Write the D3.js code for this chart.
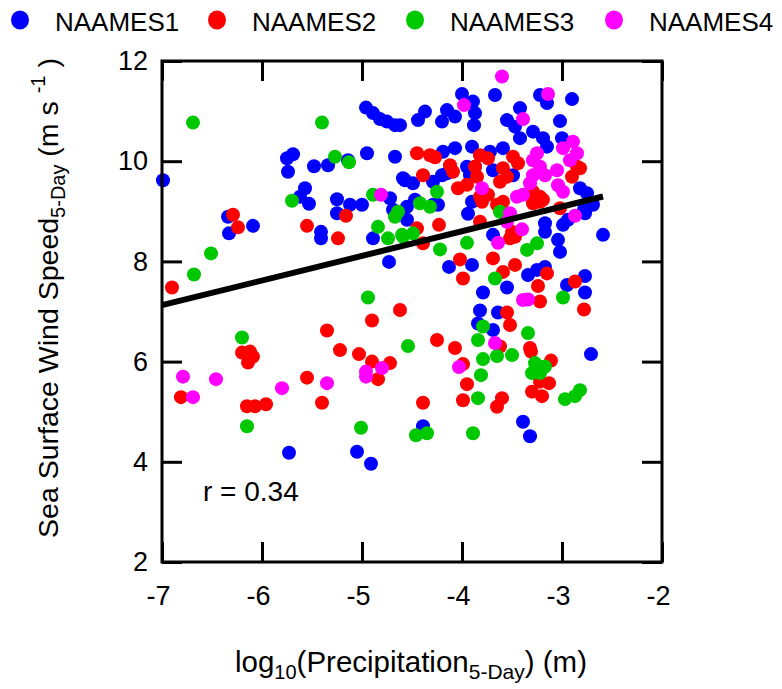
<!DOCTYPE html>
<html>
<head>
<meta charset="utf-8">
<script src="https://cdn.jsdelivr.net/npm/d3@7"></script>
<style>
  html, body { margin: 0; padding: 0; background: #fff; }
  svg { display: block; font-family: "Liberation Sans", Arial, sans-serif; }
</style>
</head>
<body>
<div id="chart"></div>
<script>
// values: [log10 precipitation, wind speed]
const naames1 = [
  [-6.99, 9.62], [-6.34, 8.89], [-6.33, 8.56], [-6.09, 8.71],
  [-5.75, 10.06], [-5.69, 10.14], [-5.74, 9.79], [-5.48, 9.90], [-5.34, 9.92],
  [-5.14, 10.02], [-4.95, 10.16], [-4.67, 10.09], [-4.57, 9.62],
  [-4.96, 11.07], [-4.89, 10.96], [-4.82, 10.84], [-4.75, 10.79], [-4.67, 10.72],
  [-5.57, 9.46], [-5.62, 9.29], [-5.53, 9.15], [-5.25, 9.24], [-5.25, 8.96],
  [-5.12, 9.13], [-5.00, 9.13], [-4.72, 9.26], [-4.69, 9.03], [-4.89, 8.46],
  [-4.55, 8.83], [-4.73, 7.99], [-5.41, 8.59], [-5.41, 8.46],
  [-5.73, 4.18], [-5.05, 4.20], [-4.91, 3.96],
  [-3.67, 11.32], [-4.00, 11.34], [-3.89, 11.19], [-3.87, 10.96], [-3.88, 10.72],
  [-4.15, 11.02], [-4.20, 10.79], [-4.07, 10.89], [-4.37, 10.99], [-4.44, 10.82],
  [-4.62, 10.72], [-3.22, 11.32], [-3.15, 11.16], [-2.90, 11.24], [-3.42, 11.06],
  [-3.55, 10.82], [-3.47, 10.69], [-3.02, 10.80], [-3.42, 10.46], [-3.29, 10.59],
  [-3.19, 10.46], [-3.15, 10.29], [-3.00, 10.46], [-3.90, 10.29], [-4.07, 10.26],
  [-4.19, 10.19], [-3.59, 10.26], [-3.72, 10.19], [-3.49, 9.72], [-4.59, 9.66],
  [-4.49, 9.56], [-4.29, 9.59], [-4.20, 9.72], [-4.24, 9.13], [-4.47, 9.23],
  [-4.55, 9.09], [-2.82, 9.46], [-2.75, 9.36], [-2.69, 9.13], [-3.87, 9.89],
  [-3.92, 9.72], [-3.69, 9.82], [-4.15, 9.76], [-3.95, 9.89],
  [-3.94, 8.95], [-3.69, 8.53], [-3.17, 8.76], [-3.17, 8.59], [-2.99, 8.73],
  [-2.94, 8.83], [-2.77, 8.96], [-3.04, 8.43], [-3.02, 8.19], [-2.59, 8.53],
  [-4.13, 7.89], [-3.90, 7.93], [-3.55, 7.48], [-3.79, 7.38], [-3.34, 7.73],
  [-3.25, 7.83], [-3.17, 7.89], [-2.95, 7.53], [-2.77, 7.71], [-2.77, 7.38],
  [-3.82, 7.02], [-3.64, 6.98], [-3.84, 6.76], [-3.69, 6.63],
  [-4.29, 9.13], [-3.90, 9.19], [-2.75, 9.09], [-2.78, 9.03],
  [-4.39, 4.71], [-3.39, 4.80], [-3.32, 4.51], [-2.71, 6.15]
];

const naames2 = [
  [-6.90, 7.48], [-6.29, 8.93], [-6.24, 8.68], [-5.55, 8.71], [-5.16, 8.91],
  [-5.24, 8.46], [-4.62, 7.03], [-4.90, 6.82], [-5.35, 6.62],
  [-6.20, 6.18], [-6.12, 6.20], [-6.09, 6.10], [-6.14, 5.98], [-5.22, 6.23],
  [-5.03, 6.15], [-4.90, 6.00], [-4.72, 5.97], [-4.84, 5.65], [-6.81, 5.29],
  [-6.15, 5.11], [-6.07, 5.11], [-5.96, 5.15], [-5.55, 5.68], [-5.40, 5.18],
  [-4.45, 10.16], [-4.32, 10.12], [-4.27, 10.08], [-4.12, 9.92], [-4.09, 9.79],
  [-4.39, 9.72], [-3.82, 10.12], [-3.74, 10.06], [-3.87, 9.89], [-3.85, 9.69],
  [-3.49, 10.09], [-3.44, 9.96], [-3.59, 9.86], [-3.55, 9.69], [-3.62, 9.59],
  [-2.85, 9.89], [-2.82, 9.86], [-2.90, 9.69], [-3.22, 9.29], [-3.19, 9.23],
  [-3.29, 9.39], [-4.04, 9.46], [-3.95, 9.53], [-3.82, 9.29], [-3.74, 9.33],
  [-4.23, 8.73], [-4.45, 8.66], [-4.39, 8.36], [-3.50, 8.59], [-3.47, 8.49],
  [-3.52, 8.46], [-3.82, 8.79], [-4.02, 8.04], [-3.99, 7.66], [-3.69, 8.06],
  [-3.47, 7.93], [-3.59, 7.79], [-3.15, 7.76], [-3.24, 7.51], [-3.22, 7.20],
  [-2.87, 7.60], [-2.78, 7.04], [-3.55, 6.98], [-3.52, 6.73], [-4.25, 6.43],
  [-4.07, 6.27], [-3.32, 6.27], [-3.80, 9.19], [-3.65, 9.13], [-3.59, 9.19],
  [-3.29, 9.16], [-3.22, 9.19], [-3.02, 9.06],
  [-3.62, 6.30], [-3.99, 5.95], [-3.95, 5.55], [-3.99, 5.23], [-3.60, 5.27],
  [-3.65, 5.10], [-4.39, 5.18], [-3.31, 6.20], [-3.11, 6.02], [-3.22, 5.60],
  [-3.13, 5.57], [-3.30, 5.40], [-3.20, 5.31]
];

const naames3 = [
  [-6.69, 10.77], [-5.40, 10.77], [-5.27, 10.09], [-5.13, 9.98], [-5.70, 9.21],
  [-4.89, 9.33], [-4.64, 8.99], [-4.67, 8.89], [-4.84, 8.69], [-4.74, 8.46],
  [-4.60, 8.53], [-4.94, 7.28], [-6.51, 8.16], [-6.68, 7.74],
  [-4.54, 6.31], [-6.20, 6.48], [-6.15, 4.71], [-5.01, 4.68],
  [-4.25, 9.39], [-4.42, 9.16], [-4.32, 9.09],
  [-4.49, 8.56], [-4.59, 8.49], [-3.25, 8.36], [-3.35, 8.23], [-3.95, 8.37],
  [-4.22, 8.24], [-3.67, 7.66], [-2.99, 7.28], [-3.79, 6.70], [-3.34, 6.57],
  [-3.84, 6.43], [-3.62, 8.99],
  [-3.79, 6.05], [-3.65, 6.11], [-3.50, 6.13], [-3.81, 5.73], [-3.84, 5.27],
  [-4.46, 4.53], [-4.35, 4.57], [-3.89, 4.57], [-3.27, 5.97], [-3.17, 5.90],
  [-3.30, 5.77], [-3.22, 5.77], [-2.97, 5.25], [-2.87, 5.31], [-2.82, 5.43]
];

const naames4 = [
  [-4.81, 9.33], [-4.96, 5.80], [-4.96, 5.70], [-4.80, 5.87], [-6.79, 5.70],
  [-6.69, 5.29], [-6.46, 5.65], [-5.80, 5.47], [-5.35, 5.57],
  [-3.60, 11.69], [-3.98, 11.12], [-3.14, 11.34], [-3.39, 10.84], [-2.89, 10.39],
  [-2.99, 10.26], [-2.85, 10.16], [-2.92, 10.02], [-3.25, 10.16], [-3.29, 10.02],
  [-3.22, 9.89], [-3.29, 9.72], [-3.05, 9.82], [-3.04, 9.52], [-2.99, 9.39],
  [-3.17, 9.72], [-3.32, 9.56], [-3.80, 9.46], [-3.45, 9.29], [-3.39, 9.33],
  [-3.64, 8.37], [-3.40, 8.64], [-2.87, 8.91], [-3.55, 8.79], [-3.52, 8.96],
  [-3.39, 7.23], [-3.34, 7.24], [-3.67, 6.37], [-4.03, 5.89]
];

const seriesNames = ['NAAMES1', 'NAAMES2', 'NAAMES3', 'NAAMES4'];
const seriesColors = ['#0000ff', '#ff0000', '#00c800', '#ff00ff'];
const seriesData = [naames1, naames2, naames3, naames4];

// fitted line: wind = intercept + slope * log10(precip)
const fitSlope = 0.492;
const fitIntercept = 10.57;
const fitRange = [-7, -2.59];
const correlation = 0.34;

const xTicks = [-7, -6, -5, -4, -3, -2];
const yTicks = [2, 4, 6, 8, 10, 12];

const width = 782;
const height = 689;
const plot = { left: 162, right: 662, top: 61, bottom: 562 };

const svg = d3.select('#chart')
  .append('svg')
  .attr('width', width)
  .attr('height', height);

const x = d3.scaleLinear().domain([-7, -2]).range([plot.left, plot.right]);
const y = d3.scaleLinear().domain([2, 12]).range([plot.bottom, plot.top]);

// points
seriesData.forEach((points, i) => {
  svg.append('g')
    .selectAll('circle')
    .data(points)
    .join('circle')
    .attr('cx', (d) => x(d[0]))
    .attr('cy', (d) => y(d[1]))
    .attr('r', 7)
    .attr('fill', seriesColors[i]);
});

// regression line
svg.append('line')
  .attr('x1', x(fitRange[0]))
  .attr('y1', y(fitIntercept + fitSlope * fitRange[0]))
  .attr('x2', x(fitRange[1]))
  .attr('y2', y(fitIntercept + fitSlope * fitRange[1]))
  .attr('stroke', '#000')
  .attr('stroke-width', 6);

// axes with inward ticks
const styleAxis = (g) => {
  g.select('.domain').remove();
  g.selectAll('.tick line').attr('stroke', '#000').attr('stroke-width', 3);
  g.selectAll('.tick text').attr('fill', '#000').attr('font-size', 27)
    .attr('font-family', '"Liberation Sans", Arial, sans-serif');
};

svg.append('g')
  .attr('transform', `translate(0,${plot.bottom})`)
  .call(d3.axisBottom(x).tickValues(xTicks).tickSizeInner(-20).tickSizeOuter(0).tickPadding(24)
    .tickFormat((d) => d3.format('d')(d).replace('−', '-')))
  .call(styleAxis)
  .call((g) => g.selectAll('.tick text').attr('dx', -4));

svg.append('g')
  .attr('transform', `translate(0,${plot.top})`)
  .call(d3.axisTop(x).tickValues(xTicks).tickSizeInner(-20).tickSizeOuter(0).tickFormat(''))
  .call(styleAxis);

svg.append('g')
  .attr('transform', `translate(${plot.left},0)`)
  .call(d3.axisLeft(y).tickValues(yTicks).tickSizeInner(-20).tickSizeOuter(0).tickPadding(14))
  .call(styleAxis);

svg.append('g')
  .attr('transform', `translate(${plot.right},0)`)
  .call(d3.axisRight(y).tickValues(yTicks).tickSizeInner(-20).tickSizeOuter(0).tickFormat(''))
  .call(styleAxis);

svg.append('rect')
  .attr('x', plot.left)
  .attr('y', plot.top)
  .attr('width', plot.right - plot.left)
  .attr('height', plot.bottom - plot.top)
  .attr('fill', 'none')
  .attr('stroke', '#000')
  .attr('stroke-width', 3);

// correlation label
svg.append('text')
  .attr('x', 203)
  .attr('y', 501)
  .attr('font-size', 28)
  .text(`r = ${correlation}`);

// legend
const legendX = [20, 217, 415, 614];
const legend = svg.append('g');
seriesNames.forEach((name, i) => {
  legend.append('ellipse')
    .attr('cx', legendX[i])
    .attr('cy', 20)
    .attr('rx', 9)
    .attr('ry', 9.5)
    .attr('fill', seriesColors[i]);
  legend.append('text')
    .attr('x', legendX[i] + 35)
    .attr('y', 31)
    .attr('font-size', 26)
    .text(name);
});

// x axis title
const xTitle = svg.append('text')
  .attr('x', 411)
  .attr('y', 672)
  .attr('text-anchor', 'middle')
  .attr('font-size', 29.5);
xTitle.append('tspan').text('log');
xTitle.append('tspan').attr('font-size', 20).attr('dy', 7).text('10');
xTitle.append('tspan').attr('dy', -7).text('(Precipitation');
xTitle.append('tspan').attr('font-size', 21).attr('dy', 7).text('5-Day');
xTitle.append('tspan').attr('dy', -7).text(') (m)');

// y axis title
const yTitle = svg.append('text')
  .attr('transform', 'translate(58,298) rotate(-90)')
  .attr('text-anchor', 'middle')
  .attr('font-size', 28.5);
yTitle.append('tspan').text('Sea Surface Wind Speed');
yTitle.append('tspan').attr('font-size', 20).attr('dy', 7).text('5-Day');
yTitle.append('tspan').attr('dy', -7).text(' (m s ');
yTitle.append('tspan').attr('font-size', 20).attr('dy', -13).text('-1');
yTitle.append('tspan').attr('dy', 13).text(' )');
</script>
</body>
</html>
